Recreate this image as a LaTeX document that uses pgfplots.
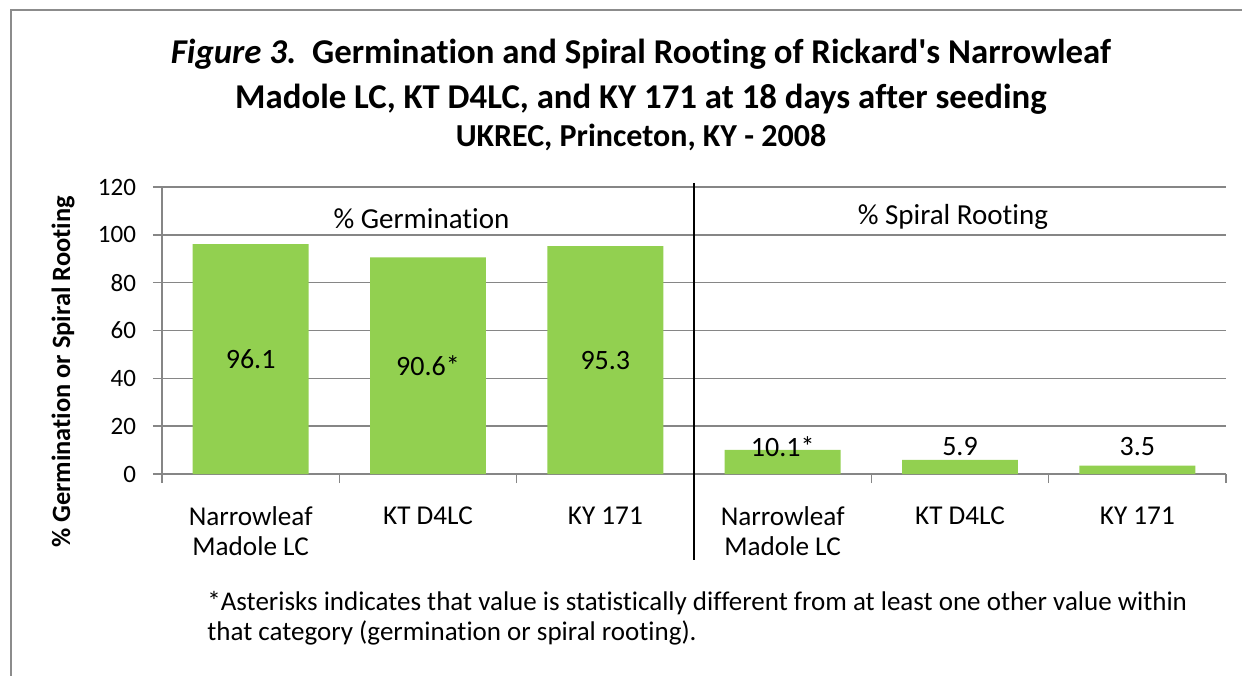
\documentclass[border=0pt]{standalone}
\usepackage{pgfplots}
\pgfplotsset{compat=1.18}
\usepackage{fontspec}
\setmainfont{Carlito}[Ligatures=NoCommon]
\definecolor{barg}{HTML}{92D050}
\definecolor{gridc}{HTML}{868686}
\definecolor{framec}{HTML}{8C8C8C}
\begin{document}
\begin{tikzpicture}
\path[use as bounding box] (-81pt,-100.5pt) rectangle (540pt,237pt);
\draw[framec, line width=1.25pt] (-75.5pt,-110pt) -- (-75.5pt,232pt) -- (550pt,232pt);
\begin{axis}[
  at={(0,0)}, anchor=south west,
  scale only axis, width=532pt, height=143.5pt,
  xmin=-0.5, xmax=5.5, ymin=0, ymax=120,
  clip=false,
  ytick={0,20,...,120},
  ymajorgrids, grid style={gridc, line width=0.75pt},
  axis x line*=bottom, axis y line*=left,
  axis line style={gridc, line width=0.75pt, -},
  tick align=outside,
  major tick length=4.5pt,
  tick style={gridc, line width=0.75pt},
  /pgf/number format/assume math mode=true,
  yticklabel style={font=\fontsize{12.5}{15}\selectfont, xshift=-5pt},
  xtick={-0.5,0.5,...,5.5},
  xticklabels={},
  extra x ticks={0,1,2,3,4,5},
  extra x tick labels={{Narrowleaf\\Madole LC},{KT D4LC},{KY 171},{Narrowleaf\\Madole LC},{KT D4LC},{KY 171}},
  extra x tick style={major tick length=0pt, xticklabel style={align=center, anchor=north, font=\fontsize{13.6}{15}\selectfont, yshift=-13pt}},
]
\addplot[ybar, bar width=0.654, bar shift=0pt, fill=barg, draw=none,
  point meta=explicit symbolic, nodes near coords,
  visualization depends on={y \as \rawy},
  every node near coord/.append style={anchor=center, text=black, font=\fontsize{14}{16}\selectfont, shift={(axis direction cs:0,-\rawy/2)}}]
  table[meta=lab] {
x y lab
0 96.1 96.1
1 90.6 90.6*
2 95.3 95.3
};
\addplot[ybar, bar width=0.654, bar shift=0pt, fill=barg, draw=none,
  point meta=explicit symbolic, nodes near coords,
  visualization depends on={y \as \rawy},
  every node near coord/.append style={anchor=center, text=black, font=\fontsize{14}{16}\selectfont, shift={(axis direction cs:0,{11.3-\rawy})}}]
  table[meta=lab] {
x y lab
3 10.1 10.1*
4 5.9 5.9
5 3.5 3.5
};
\draw[black, line width=1pt] (axis cs:2.5,121.7) -- (axis cs:2.5,-36);
\node[font=\fontsize{14.5}{16}\selectfont] at (axis cs:0.963,106.6) {\% Germination};
\node[font=\fontsize{14.5}{16}\selectfont] at (axis cs:3.96,107.4) {\% Spiral Rooting};
\end{axis}
\node[font=\bfseries\fontsize{17.4}{20}\selectfont] at (239.5pt,210pt) {\textit{Figure 3.}\ \ Germination and Spiral Rooting of Rickard\textquotesingle s Narrowleaf};
\node[font=\bfseries\fontsize{17.4}{20}\selectfont] at (239.5pt,187.5pt) {Madole LC, KT D4LC, and KY 171 at 18 days after seeding};
\node[font=\bfseries\fontsize{16}{18}\selectfont] at (239.5pt,168.5pt) {UKREC, Princeton, KY - 2008};
\node[rotate=90, font=\bfseries\fontsize{13.2}{15}\selectfont] at (-49.5pt,51pt) {\% Germination or Spiral Rooting};
\node[anchor=west, align=left, inner sep=0pt, font=\fontsize{13.5}{15}\selectfont] at (22.5pt,-72pt) {*Asterisks indicates that value is statistically different from at least one other value within\\that category (germination or spiral rooting).};
\end{tikzpicture}
\end{document}
